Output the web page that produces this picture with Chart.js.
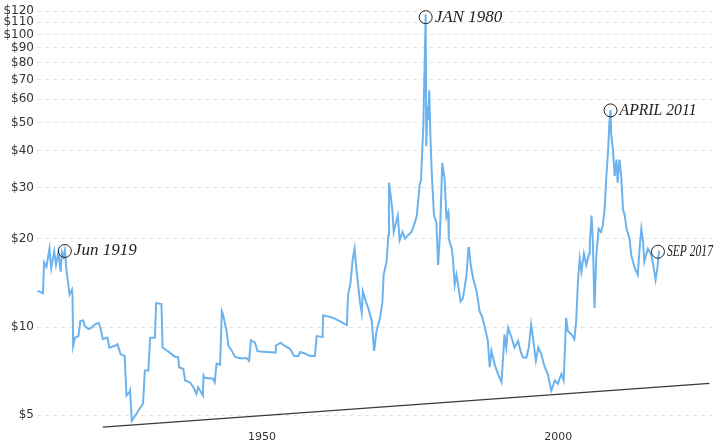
<!DOCTYPE html>
<html>
<head>
<meta charset="utf-8">
<script src="https://cdn.jsdelivr.net/npm/chart.js@4.4.1/dist/chart.umd.min.js"></script>
<style>
  html, body { margin: 0; padding: 0; background: #fff; }
  #wrap { width: 721px; height: 444px; position: relative; }
</style>
</head>
<body>
<div id="wrap"><canvas id="silverChart"></canvas></div>
<script>
// silver price, inflation adjusted
const years = [
  1914.5, 1915.4, 1915.6, 1916.0, 1916.5, 1916.8, 1917.3, 1917.6, 1918.0, 1918.4,
  1918.6, 1918.9, 1919.1, 1919.4, 1919.9, 1920.3, 1920.4, 1920.5, 1920.8, 1921.4,
  1921.7, 1922.2, 1922.5, 1923.1, 1923.6, 1924.2, 1924.8, 1925.1, 1925.5, 1926.3,
  1926.6, 1927.6, 1928.0, 1928.5, 1929.2, 1929.5, 1930.0, 1930.1, 1930.4, 1931.2,
  1932.3, 1932.6, 1933.2, 1933.5, 1934.3, 1934.5, 1935.4, 1935.6, 1936.8, 1937.7,
  1938.2, 1938.4, 1939.1, 1939.4, 1940.2, 1940.8, 1941.3, 1941.6, 1942.4, 1942.5,
  1942.7, 1944.1, 1944.4, 1944.7, 1945.3, 1945.6, 1945.8, 1946.4, 1946.7, 1947.3,
  1947.8, 1948.7, 1949.8, 1950.2, 1950.5, 1951.2, 1951.6, 1952.0, 1954.6, 1954.7,
  1955.5, 1956.2, 1957.1, 1957.8, 1958.5, 1958.8, 1959.6, 1960.5, 1961.3, 1961.6,
  1962.6, 1962.7, 1964.4, 1965.5, 1966.7, 1966.9, 1967.3, 1967.7, 1968.0, 1968.3,
  1968.6, 1968.9, 1969.2, 1969.4, 1969.9, 1970.3, 1970.9, 1971.3, 1971.7, 1972.3,
  1972.7, 1972.9, 1973.4, 1973.7, 1973.8, 1974.1, 1974.4, 1974.6, 1975.0, 1975.3,
  1975.6, 1976.1, 1976.5, 1977.0, 1977.6, 1978.2, 1978.5, 1979.0, 1979.2, 1979.6,
  1980.0, 1980.1, 1980.3, 1980.4, 1980.6, 1980.8, 1981.0, 1981.4, 1981.8, 1982.1,
  1982.4, 1982.8, 1983.2, 1983.5, 1983.8, 1983.9, 1984.4, 1984.6, 1984.9, 1985.2,
  1985.9, 1986.3, 1986.9, 1987.2, 1987.3, 1987.6, 1988.0, 1988.6, 1989.1, 1989.6,
  1990.0, 1990.5, 1990.8, 1991.1, 1991.7, 1992.2, 1992.8, 1993.1, 1993.3, 1993.6,
  1993.9, 1994.5, 1995.0, 1995.6, 1996.0, 1996.4, 1997.0, 1997.4, 1997.8, 1998.1,
  1998.6, 1999.0, 1999.5, 2000.1, 2000.6, 2001.2, 2001.8, 2002.3, 2002.9, 2003.3,
  2003.7, 2004.0, 2004.6, 2005.1, 2005.4, 2005.7, 2006.0, 2006.3, 2006.7, 2007.1,
  2007.6, 2007.7, 2008.0, 2008.2, 2008.5, 2008.8, 2009.2, 2009.6, 2009.9, 2010.2,
  2010.5, 2010.8, 2011.0, 2011.2, 2011.3, 2011.6, 2011.9, 2012.2, 2012.4, 2012.7,
  2013.0, 2013.3, 2013.6, 2013.9, 2014.4, 2014.7, 2015.3, 2015.8, 2016.1, 2016.4,
  2016.7, 2016.9, 2017.5, 2018.1, 2018.5, 2018.8, 2019.1, 2019.4
];

const prices = [
  13.30, 13.06, 16.63, 16.08, 18.54, 15.87, 18.17, 16.33, 17.97, 15.47,
  18.07, 17.38, 18.30, 15.47, 12.92, 13.44, 12.72, 8.63, 9.20, 9.32,
  10.48, 10.54, 10.06, 9.84, 9.95, 10.21, 10.34, 9.95, 9.11, 9.20,
  8.51, 8.63, 8.74, 8.08, 7.97, 5.84, 5.99, 6.07, 4.78, 5.07,
  5.48, 7.10, 7.10, 9.20, 9.20, 12.08, 11.99, 8.51, 8.18, 7.91,
  7.91, 7.29, 7.19, 6.57, 6.48, 6.23, 5.92, 6.23, 5.84, 6.83,
  6.71, 6.66, 6.48, 7.51, 7.44, 11.33, 11.04, 9.69, 8.63, 8.29,
  7.91, 7.83, 7.83, 7.67, 9.02, 8.85, 8.29, 8.25, 8.18, 8.63,
  8.85, 8.63, 8.43, 7.97, 7.97, 8.22, 8.12, 7.97, 7.97, 9.32,
  9.25, 10.98, 10.75, 10.48, 10.16, 12.89, 14.12, 17.15, 18.54, 15.87,
  13.95, 12.24, 11.18, 13.23, 12.24, 11.63, 10.48, 8.29, 9.69, 10.75,
  12.24, 15.08, 16.72, 20.58, 31.17, 28.11, 24.68, 21.12, 22.83, 24.05,
  19.80, 21.12, 20.05, 20.58, 21.12, 22.83, 24.05, 30.76, 31.58, 48.49,
  117.2, 41.50, 56.66, 51.04, 64.47, 44.85, 34.58, 24.05, 22.83, 16.30,
  20.58, 36.43, 31.98, 23.74, 24.68, 20.05, 18.54, 17.15, 13.95, 15.08,
  12.24, 12.56, 15.08, 18.54, 18.79, 16.30, 14.68, 13.23, 11.33, 10.75,
  9.95, 8.97, 7.29, 8.29, 7.38, 6.92, 6.48, 8.08, 9.44, 8.51,
  9.95, 9.20, 8.51, 8.97, 8.29, 7.87, 7.87, 8.51, 10.21, 9.20,
  7.67, 8.51, 8.08, 7.29, 6.92, 6.07, 6.57, 6.40, 6.92, 6.57,
  10.75, 9.69, 9.44, 9.09, 10.48, 14.31, 17.15, 15.47, 17.83, 16.30,
  17.83, 19.54, 24.05, 20.05, 11.63, 17.61, 21.67, 21.12, 22.25, 25.32,
  32.85, 40.40, 49.75, 55.17, 46.02, 40.40, 32.85, 37.38, 31.17, 37.38,
  32.85, 25.32, 24.05, 21.67, 20.05, 17.61, 15.87, 15.08, 18.54, 21.67,
  19.54, 16.72, 18.54, 17.61, 15.87, 14.50, 15.87, 18.25
];

// hand-drawn support line
const trendYears = [1925.5, 2027.9];
const trendValues = [4.55, 6.42];

// handwritten notes on the peaks
const noteLabels = ['Jun 1919', 'JAN 1980', 'APRIL 2011', 'SEP 2017'];
const noteYears = [1919.1, 1980.0, 2011.2, 2019.2];
const noteValues = [18.2, 114.5, 55.0, 18.1];

const yTicks = [5, 10, 20, 30, 40, 50, 60, 70, 80, 90, 100, 110, 120];
const xTicks = [1950, 2000];

const notesPlugin = {
  id: 'notes',
  afterDatasetsDraw(chart) {
    const c = chart.ctx;
    const xs = chart.scales.x, ys = chart.scales.y;
    c.save();
    c.strokeStyle = '#222';
    c.fillStyle = '#222';
    c.lineWidth = 1;
    const widths = [64, 72, 77, 46];
    noteLabels.forEach((t, i) => {
      const px = xs.getPixelForValue(noteYears[i]);
      const py = ys.getPixelForValue(noteValues[i]);
      c.beginPath();
      c.arc(px, py, 6.5, 0, Math.PI * 2);
      c.stroke();
      c.font = 'italic 17px "Liberation Serif"';
      c.textBaseline = 'middle';
      c.fillText(t, px + 9, py, widths[i]);
    });
    c.restore();
  }
};

const ctx = document.getElementById('silverChart');

new Chart(ctx, {
  type: 'line',
  data: {
    datasets: [
      {
        label: 'Silver',
        data: years.map((y, i) => ({ x: y, y: prices[i] })),
        borderColor: '#6cb3ee',
        borderWidth: 2,
        pointRadius: 0,
        tension: 0,
        fill: false
      },
      {
        label: 'Trend',
        data: trendYears.map((y, i) => ({ x: y, y: trendValues[i] })),
        borderColor: '#3a3a3a',
        borderWidth: 1.3,
        pointRadius: 0,
        fill: false
      }
    ]
  },
  options: {
    responsive: true,
    maintainAspectRatio: false,
    animation: false,
    layout: {
      padding: { top: 0, right: 5, bottom: 0, left: 0 }
    },
    plugins: {
      legend: { display: false },
      tooltip: { enabled: false }
    },
    scales: {
      x: {
        type: 'linear',
        min: 1914.4,
        max: 2029,
        afterBuildTicks: (scale) => {
          scale.ticks = xTicks.map(v => ({ value: v }));
        },
        afterFit: (scale) => {
          scale.height = 14;
        },
        ticks: {
          align: 'start',
          maxRotation: 0,
          padding: 1,
          color: '#333',
          font: { family: 'DejaVu Sans', size: 11 },
          callback: (v) => String(v)
        },
        grid: { display: false, drawTicks: false },
        border: { display: false }
      },
      y: {
        type: 'logarithmic',
        min: 4.45,
        max: 121,
        afterBuildTicks: (scale) => {
          scale.ticks = yTicks.map(v => ({ value: v }));
        },
        afterFit: (scale) => {
          scale.width = 37;
        },
        ticks: {
          padding: 3,
          color: '#333',
          font: { family: 'DejaVu Sans', size: 12 },
          callback: (v) => '$' + v
        },
        grid: {
          color: '#e4e4e4',
          drawTicks: false
        },
        border: { display: false, dash: [4, 4] }
      }
    }
  },
  plugins: [notesPlugin]
});
</script>
</body>
</html>
